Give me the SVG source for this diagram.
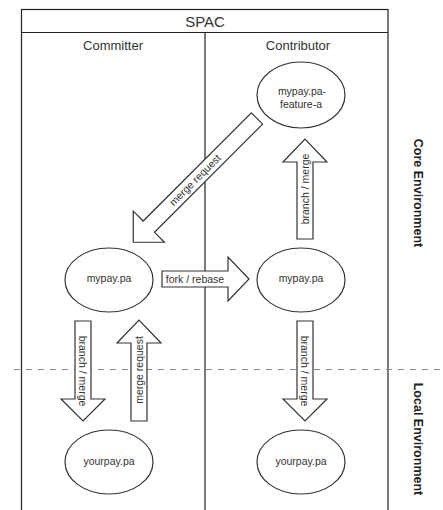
<svg xmlns="http://www.w3.org/2000/svg" width="443" height="510" viewBox="0 0 443 510">
<style>
.frame{fill:none;stroke:#222;stroke-width:1.2}
.node{fill:#fff;stroke:#333;stroke-width:1.2}
.arrow{fill:#fff;stroke:#333;stroke-width:1.2;stroke-linejoin:miter}
.t{font-family:"Liberation Sans",Arial,sans-serif;fill:#333;text-anchor:middle}
.lbl{font-size:10.5px}
.hdr{font-size:13px}
.env{font-size:12.5px;font-weight:bold;fill:#222}
</style>
<rect width="443" height="510" fill="#fff"/>
<g id="frame">
<rect class="frame" x="21.5" y="9.5" width="366.5" height="510"/>
<line class="frame" x1="21.5" y1="32.5" x2="388" y2="32.5"/>
<line class="frame" x1="205" y1="32.5" x2="205" y2="510"/>
<text class="t" x="205" y="27" font-size="15" fill="#111">SPAC</text>
<text class="t hdr" x="113" y="50">Committer</text>
<text class="t hdr" x="298" y="50">Contributor</text>
</g>
<line x1="14" y1="369.5" x2="443" y2="369.5" stroke="#888" stroke-width="1" stroke-dasharray="6 6"/>
<text class="t env" transform="translate(414,193) rotate(90)">Core Environment</text>
<text class="t env" transform="translate(414,439) rotate(90)">Local Environment</text>
<g id="connectors">
<g id="merge-request-diag">
<polygon class="arrow" transform="translate(257,118.5) rotate(135)" points="0,-8 153,-8 153,-22 175,0 153,22 153,8 0,8"/>
<text class="t lbl" transform="translate(195,180) rotate(-45)" dy="3.7">merge request</text>
</g>
<g id="fork-rebase">
<polygon class="arrow" points="162,271 228,271 228,257 249,279 228,301 228,287 162,287"/>
<text class="t lbl" x="195" y="282.7">fork / rebase</text>
</g>
<g id="contrib-up">
<polygon class="arrow" points="297,239 297,162 283,162 305,139 327,162 313,162 313,239"/>
<text class="t lbl" transform="translate(305,189) rotate(-90)" dy="3.7">branch / merge</text>
</g>
<g id="committer-down">
<polygon class="arrow" points="75,321 91,321 91,399 105,399 83,421 61,399 75,399"/>
<text class="t lbl" transform="translate(83,371) rotate(90)" dy="3.7">branch / merge</text>
</g>
<g id="committer-up">
<polygon class="arrow" points="131,421 131,343 117,343 139,320 161,343 147,343 147,421"/>
<text class="t lbl" transform="translate(139,370) rotate(-90)" dy="3.7">merge request</text>
</g>
<g id="contrib-down">
<polygon class="arrow" points="297,321 313,321 313,399 327,399 305,421 283,399 297,399"/>
<text class="t lbl" transform="translate(305,371) rotate(90)" dy="3.7">branch / merge</text>
</g>
</g>
<g id="node-feature">
<ellipse class="node" cx="301" cy="95" rx="44" ry="33"/>
<text class="t lbl" x="302" y="95">mypay.pa-</text>
<text class="t lbl" x="301" y="108">feature-a</text>
</g>
<g id="node-committer-mypay">
<ellipse class="node" cx="109" cy="280" rx="44" ry="32"/>
<text class="t lbl" x="109" y="282">mypay.pa</text>
</g>
<g id="node-contrib-mypay">
<ellipse class="node" cx="301" cy="280" rx="44" ry="32"/>
<text class="t lbl" x="301" y="282">mypay.pa</text>
</g>
<g id="node-committer-yourpay">
<ellipse class="node" cx="109" cy="462" rx="44" ry="32"/>
<text class="t lbl" x="109" y="465">yourpay.pa</text>
</g>
<g id="node-contrib-yourpay">
<ellipse class="node" cx="301" cy="462" rx="44" ry="32"/>
<text class="t lbl" x="301" y="465">yourpay.pa</text>
</g>
</svg>
